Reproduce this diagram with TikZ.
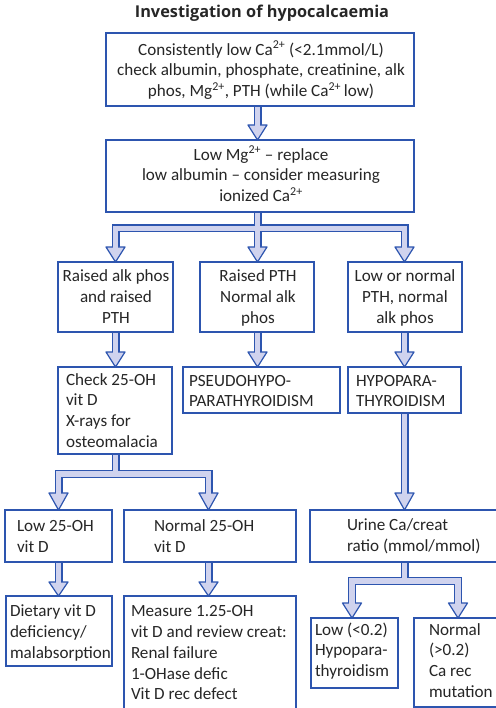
\documentclass[tikz,border=0pt]{standalone}
\usepackage{fontspec}
\setmainfont{Carlito}
\newfontfamily\titlefont{Open Sans}
\usetikzlibrary{calc}
\pgfdeclarelayer{bg}
\pgfsetlayers{bg,main}
\definecolor{bblue}{RGB}{45,85,175}
\definecolor{lav}{RGB}{208,211,238}
\newcommand\fl{\rule{0pt}{14pt}}
\newcommand\sps[1]{\textsuperscript{#1}}
\newcommand\pipes[2]{%
\draw[#1] (b1.south -| xm) -- ($(t12)+(0,{-15+#2})$);
\draw[#1] (b2.south -| xm) -- ($(tB)+(0,{-15+#2})$);
\draw[#1] ($(tA)+(0,{-15+#2})$) -- (xl |- yb1) -- (xr |- yb1) -- ($(tC)+(0,{-15+#2})$);
\draw[#1] (A.south -| xl) -- ($(tD)+(0,{-15+#2})$);
\draw[#1] (B.south -| xm) -- ($(tE)+(0,{-15+#2})$);
\draw[#1] (C.south -| xr) -- ($(tF)+(0,{-15+#2})$);
\draw[#1] (D.south -| xl) -- (xl |- yb2);
\draw[#1] ($(tG)+(0,{-17+#2})$) -- (xg |- yb2) -- (xh |- yb2) -- ($(tH)+(0,{-17+#2})$);
\draw[#1] (F.south -| xr) -- ($(tU)+(0,{-17+#2})$);
\draw[#1] (G.south -| xg) -- ($(tJ)+(0,{-14+#2})$);
\draw[#1] (H.south -| xh) -- ($(tK)+(0,{-14+#2})$);
\draw[#1] (U.south -| xr) -- (xr |- yb3);
\draw[#1] ($(tL)+(0,{-15+#2})$) -- (xul |- yb3) -- (xur |- yb3) -- ($(tM)+(0,{-15+#2})$);
}
\newcommand\hd[2]{\draw[headst] ($(#1)+(-9.5,-#2)$) -- ($(#1)+(9.5,-#2)$) -- (#1) -- cycle;}
\begin{document}
\begin{tikzpicture}[x=1pt,y=-1pt,
  bx/.style={draw=bblue, line width=1.3pt, fill=white, anchor=north west, inner sep=0pt, outer sep=0pt},
  tx/.style={inner sep=0pt, outer sep=0pt, text=black!85, font=\fontsize{17.1}{20.8}\selectfont},
  txl/.style={tx, anchor=north west, align=left},
  txc/.style={tx, anchor=north, align=center},
  ttl/.style={inner sep=0pt, text=black!85, font=\titlefont\fontsize{16.3}{19}\selectfont\bfseries, anchor=base},
  pipeo/.style={draw=bblue, line width=8pt, line join=miter},
  pipei/.style={draw=lav, line width=5.5pt, line join=miter},
  headst/.style={fill=lav, draw=bblue, line width=1.2pt, line join=round}
]
\useasboundingbox (0,0) rectangle (495,708);
\node[ttl] (title) at (262,17.5) {Investigation of hypocalcaemia};
% boxes
\node[bx, minimum width=308pt, minimum height=73pt] (b1) at (106,33) {};
\node[bx, minimum width=308pt, minimum height=72pt] (b2) at (106,140) {};
\node[bx, minimum width=115pt, minimum height=70pt] (A) at (58,262) {};
\node[bx, minimum width=114pt, minimum height=70pt] (B) at (200,262) {};
\node[bx, minimum width=114pt, minimum height=70pt] (C) at (348,262) {};
\node[bx, minimum width=114pt, minimum height=87pt] (D) at (58,367) {};
\node[bx, minimum width=157pt, minimum height=46pt] (E) at (183,367) {};
\node[bx, minimum width=113pt, minimum height=46pt] (F) at (348,367) {};
\node[bx, minimum width=107pt, minimum height=52pt] (G) at (5,510) {};
\node[bx, minimum width=172pt, minimum height=52pt] (H) at (124,510) {};
\node[bx, minimum width=200pt, minimum height=52pt] (U) at (310,510) {};
\node[bx, minimum width=106pt, minimum height=70pt] (J) at (6,596) {};
\node[bx, minimum width=172pt, minimum height=130pt] (K) at (124,596) {};
\node[bx, minimum width=87pt, minimum height=70pt] (L) at (311,618) {};
\node[bx, minimum width=100pt, minimum height=89pt] (M) at (414,618) {};
% texts
\node[txc] (t1) at (261,41) {\fl Consistently low Ca\sps{2+} (<2.1mmol/L)\\check albumin, phosphate, creatinine, alk\\phos, Mg\sps{2+}, PTH (while Ca\sps{2+}\,low)};
\node[txc] (t2) at (261,146) {\fl Low Mg\sps{2+} -- replace\\low albumin -- consider measuring\\ionized Ca\sps{2+}};
\node[txc] (tta) at (116,267.5) {\fl Raised alk phos\\and raised\\PTH};
\node[txc] (ttb) at (258,267.5) {\fl Raised PTH\\Normal alk\\phos};
\node[txc] (ttc) at (405,267.5) {\fl Low or normal\\PTH, normal\\alk phos};
\node[txl] (ttd) at (66,371) {\fl Check 25-OH\\vit D\\X-rays for\\osteomalacia};
\node[txl] (tte) at (189,372) {\fl PSEUDOHYPO-\\PARATHYROIDISM};
\node[txl] (ttf) at (356,372) {\fl HYPOPARA-\\THYROIDISM};
\node[txl] (ttg) at (17,517.5) {\fl Low 25-OH\\vit D};
\node[txl] (tth) at (154,517.5) {\fl Normal 25-OH\\vit D};
\node[txl] (ttu) at (347,516.5) {\fl Urine Ca/creat\\ratio (mmol/mmol)};
\node[txl] (ttj) at (10,602.7) {\fl Dietary vit D\\deficiency/\\malabsorption};
\node[txl] (ttk) at (131,602.7) {\fl Measure 1.25-OH\\vit D and review creat:\\Renal failure\\1-OHase defic\\Vit D rec defect};
\node[txl] (ttl) at (315,621) {\fl Low (<0.2)\\Hypopara-\\thyroidism};
\node[txl] (ttm) at (429,621) {\fl Normal\\(>0.2)\\Ca rec\\mutation};
% arrow geometry
\coordinate (xm) at (257.5,0);
\coordinate (xl) at (115.5,0);
\coordinate (xr) at (404.5,0);
\coordinate (xg) at (58.5,0);
\coordinate (xh) at (208.5,0);
\coordinate (xul) at (352,0);
\coordinate (xur) at (458,0);
\coordinate (yb1) at (0,228.5);
\coordinate (yb2) at (0,474);
\coordinate (yb3) at (0,581);
\coordinate (t12) at (b2.north -| xm);
\coordinate (tA) at (A.north -| xl);
\coordinate (tB) at (B.north -| xm);
\coordinate (tC) at (C.north -| xr);
\coordinate (tD) at (D.north -| xl);
\coordinate (tE) at (E.north -| xm);
\coordinate (tF) at (F.north -| xr);
\coordinate (tG) at (G.north -| xg);
\coordinate (tH) at (H.north -| xh);
\coordinate (tU) at (U.north -| xr);
\coordinate (tJ) at (J.north -| xg);
\coordinate (tK) at (K.north -| xh);
\coordinate (tL) at (L.north -| xul);
\coordinate (tM) at (M.north -| xur);
\begin{pgfonlayer}{bg}
\pipes{pipeo}{0}
\hd{t12}{15}\hd{tA}{15}\hd{tB}{15}\hd{tC}{15}
\hd{tD}{15}\hd{tE}{15}\hd{tF}{15}
\hd{tG}{17}\hd{tH}{17}\hd{tU}{17}
\hd{tJ}{14}\hd{tK}{14}\hd{tL}{15}\hd{tM}{15}
\pipes{pipei}{1}
\end{pgfonlayer}
\end{tikzpicture}
\end{document}
